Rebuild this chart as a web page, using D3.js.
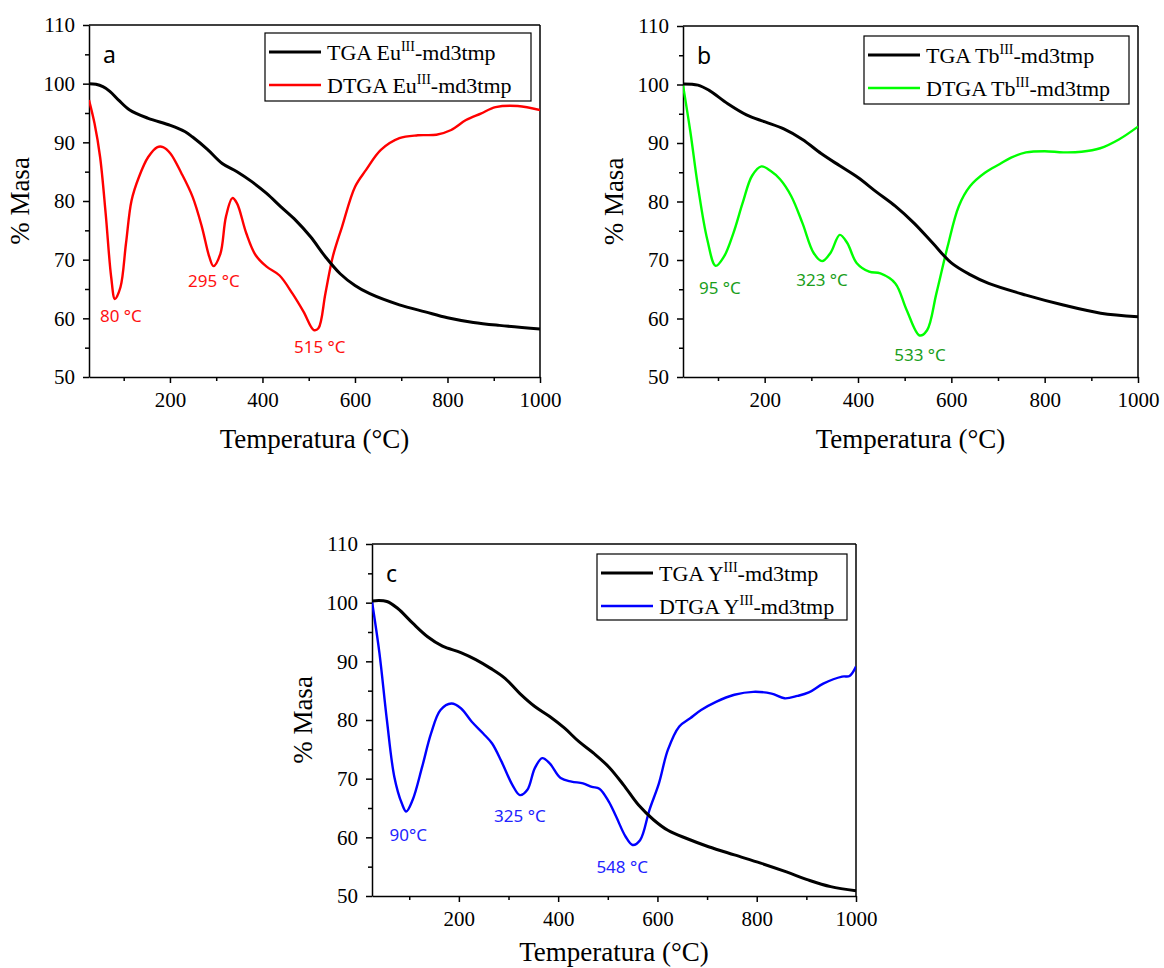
<!DOCTYPE html>
<html>
<head>
<meta charset="utf-8">
<script src="https://cdn.jsdelivr.net/npm/d3@7/dist/d3.min.js"></script>
<style>
  html, body { margin: 0; padding: 0; background: #fff; }
  svg { display: block; }
</style>
</head>
<body>
<svg id="chart" width="1164" height="968"></svg>
<script>
// ---------- DATA ----------
const yTicks = [50, 60, 70, 80, 90, 100, 110];
const yMinorTicks = [55, 65, 75, 85, 95, 105];
const xTicks = [200, 400, 600, 800, 1000];
const xMinorTicks = [100, 300, 500, 700, 900];

const euTGA = [[25,100],[40,99.9],[55,99.5],[70,98.7],[89,97.2],[113,95.5],[153,94.1],[201,92.9],[233,91.8],[249,90.9],[281,88.8],[313,86.4],[345,85],[377,83.3],[409,81.3],[440,79],[472,76.7],[504,73.9],[536,70.5],[568,67.6],[600,65.6],[632,64.2],[696,62.3],[752,61.1],[800,60.1],[856,59.3],[912,58.8],[1000,58.2]];
const euDTGA = [[25,97.2],[37,93.2],[49,87.5],[61,77.9],[73,67],[81,63.3],[93,65.3],[105,72.8],[117,80.1],[133,84.1],[153,87.5],[173,89.2],[185,89.2],[201,88.1],[225,84.7],[249,80.7],[269,75.6],[285,70.5],[294,68.9],[309,71],[321,77.3],[335,80.5],[345,79.6],[365,74.5],[385,70.8],[409,68.8],[437,67.3],[465,64.2],[489,61.1],[511,58],[521,58.3],[536,64.2],[552,70.5],[572,75.6],[600,82.4],[624,85.3],[656,88.7],[696,90.7],[736,91.2],[776,91.3],[808,92.1],[840,93.8],[872,94.9],[904,96],[952,96.2],[1000,95.5]];

const tbTGA = [[25,100.1],[57,99.9],[81,99],[121,96.7],[161,94.8],[201,93.6],[241,92.4],[281,90.6],[321,88.2],[361,86.1],[400,84.1],[440,81.6],[480,79.2],[520,76.3],[560,72.9],[600,69.5],[640,67.5],[680,66],[760,64],[840,62.3],[920,60.9],[1000,60.3]];
const tbDTGA = [[25,99.9],[41,91.8],[57,82.6],[77,73.5],[95,69],[113,70.6],[133,74.6],[153,79.8],[173,84.4],[193,86],[213,85.2],[233,83.8],[257,80.9],[281,76.3],[305,71.2],[323,69.8],[341,71.2],[361,74.3],[377,72.9],[397,69.5],[424,68],[448,67.7],[480,66],[504,61.5],[532,57.1],[548,58],[568,64.3],[592,72.3],[616,79.2],[640,82.6],[672,84.9],[704,86.4],[728,87.5],[760,88.4],[800,88.6],[840,88.4],[879,88.5],[919,89.1],[959,90.6],[1000,92.8]];

const yTGA = [[25,100.3],[55,100.2],[77,99],[107,96.5],[137,94.2],[167,92.6],[204,91.5],[234,90.3],[264,88.8],[293,87.1],[323,84.5],[353,82.3],[383,80.6],[413,78.6],[442,76.3],[472,74.3],[502,72],[532,68.9],[562,65.5],[592,63],[621,61.2],[659,59.8],[703,58.4],[755,57],[808,55.6],[860,54.1],[905,52.7],[949,51.6],[1000,50.9]];
const yDTGA = [[25,100.2],[40,91.4],[55,80],[70,70.3],[85,65.8],[94,64.4],[107,66.4],[126,72],[144,77.7],[163,81.7],[185,82.8],[204,82],[226,79.7],[249,77.7],[267,76],[286,72.9],[308,68.9],[323,67.2],[338,68.1],[353,71.8],[368,73.5],[383,72.6],[405,70.1],[427,69.5],[450,69.2],[468,68.6],[483,68.3],[502,66.1],[517,63.5],[536,60.1],[550,58.7],[565,59.5],[584,64.7],[603,69.2],[621,74.9],[644,78.9],[666,80.3],[688,81.7],[718,83.1],[755,84.3],[793,84.8],[830,84.5],[856,83.7],[882,84.1],[905,84.7],[934,86.2],[972,87.4],[987,87.5],[1000,89.1]];

const panelLabels = ["a", "b", "c"];
const elements = ["Eu", "Tb", "Y"];
const euPeaks = [["80 °C", 94, 59.4], ["295 °C", 295, 65.3], ["515 °C", 524, 54.1]];
const tbPeaks = [["95 °C", 104, 64.2], ["323 °C", 323, 65.6], ["533 °C", 533, 52.7]];
const yPeaks = [["90°C", 98, 59.4], ["325 °C", 323, 62.6], ["548 °C", 529, 53.9]];

// ---------- PANELS ----------
const panels = [
  { left: 89,  right: 540,  top: 25,  bottom: 377, titleDy: 71, tga: euTGA, dtga: euDTGA, el: elements[0], label: panelLabels[0], color: "#ff0000", annColor: "#ff1010", peaks: euPeaks, legLeft: 265, legTop: 33, legW: 266, legH: 68 },
  { left: 683, right: 1138, top: 26,  bottom: 377, titleDy: 71, tga: tbTGA, dtga: tbDTGA, el: elements[1], label: panelLabels[1], color: "#00ff00", annColor: "#1a9e1a", peaks: tbPeaks, legLeft: 864, legTop: 36, legW: 265, legH: 68 },
  { left: 372, right: 856,  top: 544, bottom: 896, titleDy: 65, tga: yTGA,  dtga: yDTGA,  el: elements[2], label: panelLabels[2], color: "#0000ff", annColor: "#2222ff", peaks: yPeaks, legLeft: 597, legTop: 554, legW: 250, legH: 66 }
];

const svg = d3.select("#chart");
const serif = "'Liberation Serif', 'Times New Roman', serif";
const sans = "'Noto Sans', 'Open Sans', sans-serif";

panels.forEach((p, i) => {
  const x = d3.scaleLinear().domain([25, 1000]).range([p.left, p.right]);
  const y = d3.scaleLinear().domain([50, 110]).range([p.bottom, p.top]);
  const g = svg.append("g");

  const clipId = "clip" + i;
  svg.append("clipPath").attr("id", clipId).append("rect")
    .attr("x", p.left).attr("y", p.top).attr("width", p.right - p.left).attr("height", p.bottom - p.top);

  // minor ticks
  const xMinor = d3.axisBottom(x).tickValues(xMinorTicks).tickSize(4).tickFormat("");
  const yMinor = d3.axisLeft(y).tickValues(yMinorTicks).tickSize(4).tickFormat("");
  g.append("g").attr("transform", `translate(0,${p.bottom})`).call(xMinor)
    .call(s => s.select(".domain").remove())
    .selectAll("line").attr("stroke", "#000").attr("stroke-width", 1.5);
  g.append("g").attr("transform", `translate(${p.left},0)`).call(yMinor)
    .call(s => s.select(".domain").remove())
    .selectAll("line").attr("stroke", "#000").attr("stroke-width", 1.5);

  // major axes
  const xAxis = d3.axisBottom(x).tickValues(xTicks).tickSize(6).tickSizeOuter(0).tickPadding(9).tickFormat(d3.format("d"));
  const yAxis = d3.axisLeft(y).tickValues(yTicks).tickSize(6).tickSizeOuter(0).tickPadding(8).tickFormat(d3.format("d"));
  const gx = g.append("g").attr("transform", `translate(0,${p.bottom})`).call(xAxis);
  const gy = g.append("g").attr("transform", `translate(${p.left},0)`).call(yAxis);
  [gx, gy].forEach(a => {
    a.select(".domain").attr("stroke", "#000").attr("stroke-width", 1.5);
    a.selectAll("line").attr("stroke", "#000").attr("stroke-width", 1.5);
    a.selectAll("text").attr("font-family", serif).attr("font-size", 21).attr("fill", "#000");
  });

  // top and right border
  g.append("line").attr("x1", p.left).attr("x2", p.right).attr("y1", p.top).attr("y2", p.top)
    .attr("stroke", "#000").attr("stroke-width", 1.5);
  g.append("line").attr("x1", p.right).attr("x2", p.right).attr("y1", p.top).attr("y2", p.bottom)
    .attr("stroke", "#000").attr("stroke-width", 1.5);

  // curves
  const line = d3.line().x(d => x(d[0])).y(d => y(d[1])).curve(d3.curveCatmullRom.alpha(0.5));
  const cg = g.append("g").attr("clip-path", `url(#${clipId})`);
  cg.append("path").datum(p.dtga).attr("d", line).attr("fill", "none")
    .attr("stroke", p.color).attr("stroke-width", 2.4).attr("stroke-linejoin", "round");
  cg.append("path").datum(p.tga).attr("d", line).attr("fill", "none")
    .attr("stroke", "#000").attr("stroke-width", 3).attr("stroke-linejoin", "round");

  // axis titles
  g.append("text").attr("x", (p.left + p.right) / 2).attr("y", p.bottom + p.titleDy)
    .attr("text-anchor", "middle").attr("font-family", serif).attr("font-size", 27)
    .text("Temperatura (°C)");
  g.append("text")
    .attr("transform", `translate(${p.left - 60},${(p.top + p.bottom) / 2}) rotate(-90)`)
    .attr("text-anchor", "middle").attr("font-family", serif).attr("font-size", 27)
    .text("% Masa");

  // panel label
  g.append("text").attr("x", p.left + 14).attr("y", p.top + 38)
    .attr("font-family", sans).attr("font-size", 23).attr("fill", "#000").text(p.label);

  // peak annotations
  p.peaks.forEach(a => {
    g.append("text").attr("x", x(a[1])).attr("y", y(a[2]))
      .attr("text-anchor", "middle").attr("font-family", sans).attr("font-size", 17)
      .attr("fill", p.annColor).text(a[0]);
  });

  // legend
  const lg = g.append("g");
  lg.append("rect").attr("x", p.legLeft).attr("y", p.legTop).attr("width", p.legW).attr("height", p.legH)
    .attr("fill", "#fff").attr("stroke", "#000").attr("stroke-width", 1.2);
  const rows = [["TGA", "#000", 3], ["DTGA", p.color, 2.6]];
  rows.forEach((r, k) => {
    const cy = p.legTop + 19 + k * 33;
    lg.append("line").attr("x1", p.legLeft + 4).attr("x2", p.legLeft + 56).attr("y1", cy).attr("y2", cy)
      .attr("stroke", r[1]).attr("stroke-width", r[2]);
    const t = lg.append("text").attr("x", p.legLeft + 62).attr("y", cy + 8)
      .attr("font-family", serif).attr("font-size", 22).attr("fill", "#000");
    t.append("tspan").text(r[0] + " " + p.el);
    t.append("tspan").attr("dy", -9).attr("font-size", 14).text("III");
    t.append("tspan").attr("dy", 9).text("-md3tmp");
  });
});
</script>
</body>
</html>
